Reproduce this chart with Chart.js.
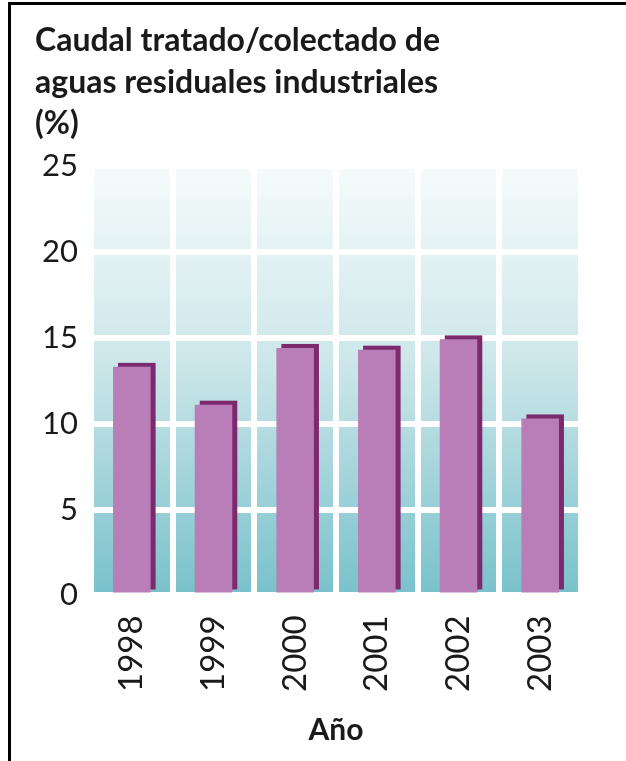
<!DOCTYPE html>
<html>
<head>
<meta charset="utf-8">
<script src="https://cdn.jsdelivr.net/npm/chart.js@4/dist/chart.umd.min.js"></script>
<style>
  html, body { margin: 0; padding: 0; background: #fff; }
  #wrap { position: relative; width: 626px; height: 761px; }
  #frame {
    position: absolute; left: 8px; top: 2px; right: 0; bottom: 0;
    border-left: 3px solid #000; border-top: 3px solid #000;
    pointer-events: none;
  }
</style>
</head>
<body>
<div id="wrap">
  <canvas id="chart" width="626" height="761"></canvas>
  <div id="frame"></div>
</div>
<script>
// datos
const years = ["1998", "1999", "2000", "2001", "2002", "2003"];
const caudal = [13.3, 11.1, 14.4, 14.3, 14.9, 10.3];
const yTicks = [0, 5, 10, 15, 20, 25];

const titleLines = [
  "Caudal tratado/colectado de",
  "aguas residuales industriales",
  "(%)"
];

const colors = {
  face: "#b97db7",
  side: "#7c2a6e",
  bgTop: "#f6fbfb",
  bgBottom: "#79c1cb",
  text: "#1a1a1a"
};

// fondo degradado en el area del grafico
const plotBackground = {
  id: "plotBackground",
  beforeDraw(chart) {
    const { ctx, chartArea } = chart;
    if (!chartArea) return;
    const g = ctx.createLinearGradient(0, chartArea.top, 0, chartArea.bottom);
    g.addColorStop(0, colors.bgTop);
    g.addColorStop(0.45, "#cde7ea");
    g.addColorStop(1, colors.bgBottom);
    ctx.save();
    ctx.fillStyle = g;
    ctx.fillRect(chartArea.left, chartArea.top,
      chartArea.right - chartArea.left, chartArea.bottom - chartArea.top);
    ctx.restore();
  }
};

// lado oscuro de cada barra (efecto 3D)
const barSide = {
  id: "barSide",
  beforeDatasetsDraw(chart) {
    const { ctx } = chart;
    const meta = chart.getDatasetMeta(0);
    ctx.save();
    ctx.fillStyle = colors.side;
    meta.data.forEach(bar => {
      const { x, y, base, width } = bar.getProps(["x", "y", "base", "width"], true);
      const dx = 5, dy = 4;
      ctx.fillRect(x - width / 2 + dx, y - dy, width, base - y + dy - 3);
    });
    ctx.restore();
  }
};

new Chart(document.getElementById("chart"), {
  type: "bar",
  data: {
    labels: years,
    datasets: [{
      data: caudal,
      backgroundColor: colors.face,
      borderWidth: 0,
      barPercentage: 0.46,
      categoryPercentage: 1
    }]
  },
  plugins: [plotBackground, barSide],
  options: {
    responsive: false,
    animation: false,
    layout: { padding: { left: 35, right: 45, top: 0, bottom: 13 } },
    plugins: {
      legend: { display: false },
      tooltip: { enabled: false },
      title: {
        display: true,
        text: titleLines,
        align: "start",
        color: colors.text,
        font: { family: "Lato", size: 32, weight: "bold", lineHeight: 1.3 },
        padding: { top: 20, bottom: 21 }
      }
    },
    scales: {
      x: {
        grid: { color: "#ffffff", lineWidth: 6, drawTicks: false, offset: true },
        border: { display: false },
        ticks: {
          color: colors.text,
          font: { family: "Lato", size: 33 },
          minRotation: 90,
          maxRotation: 90,
          padding: 20
        },
        title: {
          display: true,
          text: "Año",
          color: colors.text,
          font: { family: "Lato", size: 30, weight: "bold" },
          padding: { top: 0, bottom: 0 }
        }
      },
      y: {
        min: 0,
        max: 25,
        afterBuildTicks(scale) {
          scale.ticks = yTicks.map(v => ({ value: v }));
        },
        afterFit(scale) {
          scale.width = 56;
        },
        grid: { color: "#ffffff", lineWidth: 6, drawTicks: false },
        border: { display: false },
        ticks: {
          color: colors.text,
          font: { family: "Lato", size: 31 },
          padding: 13
        }
      }
    }
  }
});
</script>
</body>
</html>
